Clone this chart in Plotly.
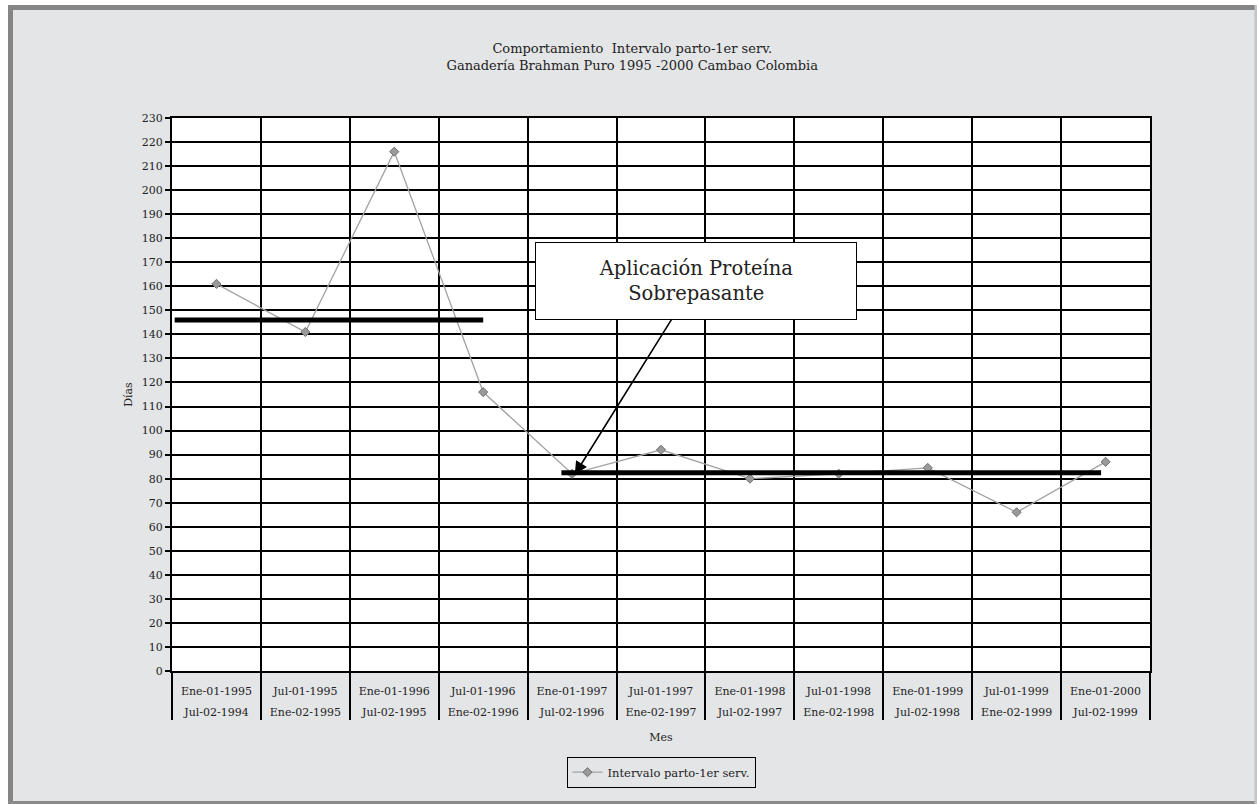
import plotly.graph_objects as go

# Data
periodo_fin = ["Ene-01-1995", "Jul-01-1995", "Ene-01-1996", "Jul-01-1996", "Ene-01-1997",
               "Jul-01-1997", "Ene-01-1998", "Jul-01-1998", "Ene-01-1999", "Jul-01-1999", "Ene-01-2000"]
periodo_ini = ["Jul-02-1994", "Ene-02-1995", "Jul-02-1995", "Ene-02-1996", "Jul-02-1996",
               "Ene-02-1997", "Jul-02-1997", "Ene-02-1998", "Jul-02-1998", "Ene-02-1999", "Jul-02-1999"]
intervalo = [161, 141, 216, 116, 82, 92, 80, 82, 84.5, 66, 87]

# Reference (mean) lines: [x_start, x_end] in category index units, level
ref1_x = [-0.47, 3.0]
ref1_y = [146, 146]
ref2_x = [3.88, 9.95]
ref2_y = [82.5, 82.5]

FONT = "DejaVu Serif"
BG = "#E4E5E7"
W, H = 1257, 804
ML, MR, MT, MB = 172, 107, 118, 133
PW, PH = W - ML - MR, H - MT - MB


def px(x):
    return (x - ML) / PW


def py(y):
    return (H - MB - y) / PH


# outer (second-row) labels are set one line lower, as in the reference
outer_labels = ["<br>" + s for s in periodo_ini]

fig = go.Figure()
fig.add_trace(go.Scatter(
    x=[outer_labels, periodo_fin], y=intervalo,
    mode="lines+markers", name="Intervalo parto-1er serv.",
    line=dict(color="#A3A3A3", width=1.3),
    marker=dict(symbol="diamond", size=7, color="#9A9A9A", line=dict(color="#6E6E6E", width=1)),
))
for xs, ys in [(ref1_x, ref1_y), (ref2_x, ref2_y)]:
    fig.add_trace(go.Scatter(
        x=xs, y=ys, xaxis="x2", yaxis="y", mode="lines",
        line=dict(color="black", width=5), showlegend=False, hoverinfo="skip",
    ))

fig.update_layout(
    width=W, height=H,
    margin=dict(l=ML, r=MR, t=MT, b=MB),
    paper_bgcolor=BG, plot_bgcolor="white",
    font=dict(family=FONT, size=11, color="#222"),
    title=dict(text="Comportamiento  Intervalo parto-1er serv.<br>Ganadería Brahman Puro 1995 -2000 Cambao Colombia",
               x=0.503, xanchor="center", y=0.934, yanchor="middle",
               font=dict(family=FONT, size=13, color="#222")),
    xaxis=dict(type="multicategory", showgrid=True, gridcolor="black", gridwidth=1.5,
               showline=True, linecolor="black", linewidth=2, mirror=True,
               ticks="outside", ticklen=10, tickcolor="black", tickwidth=1.5,
               ticklabelstandoff=9,
               showdividers=True, dividercolor="black", dividerwidth=1.5,
               tickfont=dict(family=FONT, size=11, color="#222"),
               title=dict(text="Mes", font=dict(family=FONT, size=11), standoff=16),
               range=[-0.5, 10.5]),
    xaxis2=dict(overlaying="x", range=[-0.5, 10.5], visible=False, showgrid=False),
    yaxis=dict(range=[0, 230], dtick=10, showgrid=True, gridcolor="black", gridwidth=1.5,
               showline=True, linecolor="black", linewidth=2, mirror=True,
               ticks="outside", ticklen=5, tickcolor="black", tickwidth=1.5,
               zeroline=False, tickfont=dict(family=FONT, size=11, color="#222"),
               title=dict(text="Días", font=dict(family=FONT, size=11), standoff=7)),
    legend=dict(orientation="h", x=0.5, xanchor="center", y=-0.183, yanchor="middle",
                bordercolor="black", borderwidth=1, bgcolor=BG,
                font=dict(family=FONT, size=11.5, color="#222")),
    showlegend=True,
)

fig.add_annotation(
    x=4.03, y=81.7, xref="x2", yref="y",
    ax=121, ay=-194, axref="pixel", ayref="pixel",
    text="Aplicación Proteína<br>Sobrepasante", showarrow=True,
    arrowhead=2, arrowsize=1.6, arrowwidth=1.6, arrowcolor="black",
    font=dict(family=FONT, size=19.5, color="#222"),
    bgcolor="white", bordercolor="black", borderwidth=1,
    width=318, height=74, align="center",
)

# outer picture frame
frame = [
    # white outside strips
    (0, 0, 8, H, "white"),
    (0, 0, W, 5, "white"),
    # dark top and left borders
    (8, 5, 1255, 10, "#858585"),
    (8, 5, 13, H, "#858585"),
    # bottom and right edges
    (8, 801, W, H, "#8A8A8A"),
    (1254.5, 5, W, H, "#C4C4C4"),
]
for x0, y0, x1, y1, c in frame:
    fig.add_shape(type="rect", xref="paper", yref="paper",
                  x0=px(x0), x1=px(x1), y0=py(y1), y1=py(y0),
                  line=dict(width=0), fillcolor=c, layer="below")

fig.write_html("out.html", config={"displayModeBar": False},
               post_script="document.body.style.margin='0';")
